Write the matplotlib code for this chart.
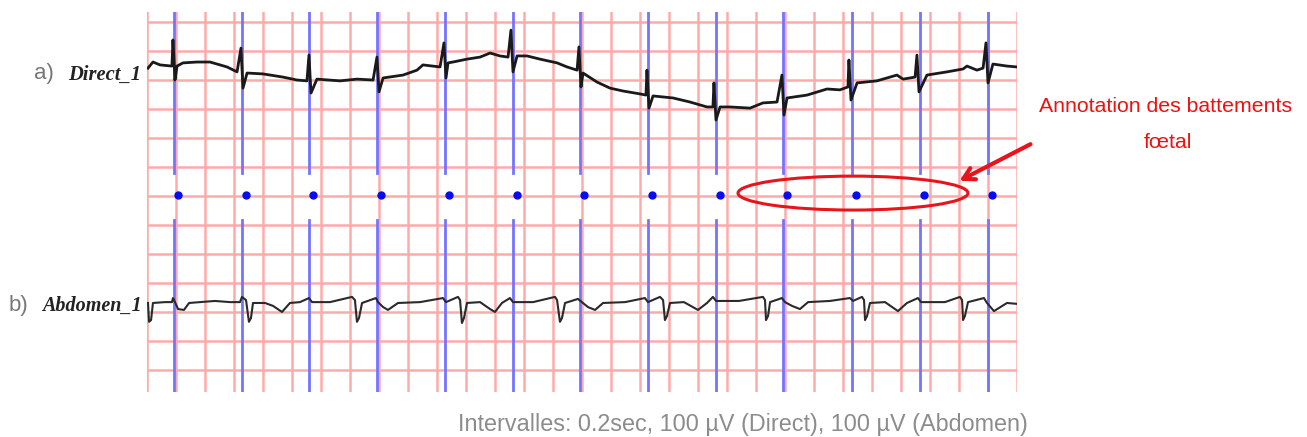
import matplotlib.pyplot as plt
from matplotlib.patches import Ellipse

# time axis in seconds, signal in microvolts
grid_dt = 0.2      # sec per big square
grid_dv = 100      # uV per big square
t_end = 6.0
n_hlines = 13

# fetal beat annotations (sec)
beat_times = [0.186, 0.655, 1.117, 1.586, 2.055, 2.524, 2.986, 3.455, 3.924,
              4.386, 4.862, 5.331, 5.800]

# Direct_1 (scalp electrode), uV relative to its 1000 uV line
direct_t = [0.007, 0.041, 0.090, 0.172, 0.179, 0.193, 0.207, 0.248, 0.345, 0.434,
            0.483, 0.552, 0.621, 0.648, 0.662, 0.690, 0.800, 0.938, 1.034, 1.103,
            1.117, 1.131, 1.172, 1.331, 1.448, 1.559, 1.586, 1.600, 1.628, 1.766,
            1.862, 1.903, 2.021, 2.048, 2.062, 2.076, 2.110, 2.207, 2.297, 2.366,
            2.434, 2.490, 2.510, 2.524, 2.552, 2.621, 2.710, 2.828, 2.897, 2.966,
            2.979, 2.993, 3.007, 3.103, 3.193, 3.283, 3.400, 3.441, 3.448, 3.462,
            3.490, 3.628, 3.745, 3.862, 3.903, 3.910, 3.924, 3.952, 4.021, 4.159,
            4.248, 4.345, 4.379, 4.393, 4.414, 4.552, 4.690, 4.779, 4.834, 4.841,
            4.855, 4.897, 5.034, 5.172, 5.214, 5.297, 5.310, 5.324, 5.379, 5.517,
            5.628, 5.655, 5.724, 5.766, 5.786, 5.800, 5.834, 5.931, 6.000]
direct_v = [41, 62, 52, 48, 138, 0, 48, 59, 62, 62,
            55, 45, 28, 110, -28, 24, 21, 10, 0, -3,
            86, -45, 3, -3, 3, 0, 79, -41, 7, 17,
            34, 52, 45, 128, 7, 59, 62, 72, 79, 93,
            83, 79, 172, 28, 83, 83, 72, 59, 45, 34,
            114, -24, 24, -7, -28, -38, -48, -52, 34, -97,
            -55, -62, -76, -93, -93, -10, -138, -93, -93, -97,
            -79, -76, 17, -121, -62, -52, -31, -34, -24, 69,
            -69, -10, -3, 17, 3, 10, 86, -41, 17, 28,
            38, 48, 34, 41, 128, -10, 55, 48, 45]

# Abdomen_1, uV relative to its 200 uV line
abd_t = [0.007, 0.014, 0.028, 0.041, 0.124, 0.172, 0.179, 0.193, 0.214, 0.255,
         0.290, 0.366, 0.469, 0.572, 0.641, 0.655, 0.683, 0.703, 0.717, 0.731,
         0.814, 0.869, 0.931, 0.986, 1.055, 1.117, 1.138, 1.262, 1.414, 1.434,
         1.448, 1.462, 1.483, 1.579, 1.593, 1.628, 1.662, 1.731, 1.883, 2.041,
         2.062, 2.145, 2.159, 2.172, 2.186, 2.207, 2.297, 2.366, 2.400, 2.448,
         2.503, 2.524, 2.662, 2.814, 2.828, 2.848, 2.862, 2.883, 2.972, 3.041,
         3.090, 3.145, 3.297, 3.434, 3.455, 3.538, 3.559, 3.572, 3.586, 3.607,
         3.703, 3.800, 3.862, 3.903, 3.924, 4.083, 4.248, 4.262, 4.269, 4.283,
         4.297, 4.379, 4.400, 4.448, 4.503, 4.559, 4.710, 4.848, 4.869, 4.931,
         4.945, 4.952, 4.966, 4.986, 5.090, 5.179, 5.241, 5.317, 5.338, 5.503,
         5.607, 5.621, 5.628, 5.641, 5.662, 5.772, 5.793, 5.841, 5.931, 6.000]
abd_v = [31, -34, -28, 31, 34, 34, 48, 34, 10, 7,
         31, 34, 38, 34, 34, 52, 41, -34, -21, 31,
         31, 21, 0, 31, 34, 48, 34, 34, 52, 41,
         -34, -21, 31, 48, 34, 17, 7, 31, 34, 48,
         34, 52, 41, -38, -21, 31, 34, 10, 0, 31,
         48, 34, 34, 52, 41, -34, -21, 31, 45, 17,
         7, 31, 34, 48, 34, 52, 41, -28, -14, 31,
         34, 7, 31, 52, 38, 38, 52, 41, -28, -14,
         34, 48, 34, 21, 10, 34, 38, 48, 38, 52,
         41, -28, -14, 31, 34, 3, 31, 48, 34, 34,
         52, 41, -28, -14, 34, 48, 31, 3, 31, 28]

direct_offset = 1000
abd_offset = 200

W, H = 1307, 437
fig = plt.figure(figsize=(W / 100, H / 100), dpi=100)
ax = fig.add_axes([147 / W, (H - 392) / H, 870 / W, 380 / H])
ax.set_xlim(0, t_end)
ax.set_ylim(-76, 1234.5)
ax.axis('off')

# ECG paper grid
red = '#ffaaaa'
for k in range(int(round(t_end / grid_dt)) + 1):
    ax.axvline(k * grid_dt, color=red, lw=1.8, zorder=1)
for k in range(n_hlines):
    ax.axhline(k * grid_dv, color=red, lw=1.8, zorder=1)

# beat markers
blue = '#7474ff'
for b in beat_times:
    ax.plot([b, b], [679, 1234.5], color=blue, lw=2.0, zorder=2)
    ax.plot([b, b], [-76, 517], color=blue, lw=2.0, zorder=2)
ax.plot([b + 0.028 for b in beat_times], [603] * len(beat_times), 'o',
        color='#0a0aee', ms=5, zorder=3)

ax.plot(direct_t, [v + direct_offset for v in direct_v], color='#1a1a1a', lw=2.0,
        zorder=4)
ax.plot(abd_t, [v + abd_offset for v in abd_v], color='#2a2a2a', lw=1.5, zorder=4)

# annotation
ax.add_patch(Ellipse((4.869, 610), 1.586, 117, fill=False, ec='#e8141c', lw=2.2,
                     zorder=5, clip_on=False))
ax.annotate('', xy=(5.586, 648), xytext=(6.11, 783),
            arrowprops=dict(arrowstyle='->,head_length=0.8,head_width=0.45',
                            color='#e8141c', lw=3),
            annotation_clip=False, zorder=6)

fig.text(1166 / W, 1 - 107 / H, 'Annotation des battements', color='#ee1111',
         fontsize=15.3, family='Liberation Sans', ha='center', va='center')
fig.text(1168 / W, 1 - 143 / H, 'fœtal', color='#ee1111',
         fontsize=15.3, family='Liberation Sans', ha='center', va='center')

fig.text(34 / W, 1 - 74 / H, 'a)', color='#777777', fontsize=16,
         family='Liberation Sans', ha='left', va='center')
fig.text(68 / W, 1 - 75 / H, 'Direct_1', color='#222222', fontsize=14.8,
         family='Liberation Serif', style='italic', weight='bold',
         ha='left', va='center')
fig.text(9 / W, 1 - 305 / H, 'b)', color='#777777', fontsize=16,
         family='Liberation Sans', ha='left', va='center')
fig.text(42 / W, 1 - 306 / H, 'Abdomen_1', color='#222222', fontsize=14.5,
         family='Liberation Serif', style='italic', weight='bold',
         ha='left', va='center')

fig.text(743 / W, 1 - 424 / H, 'Intervalles: 0.2sec, 100 µV (Direct), 100 µV (Abdomen)',
         color='#8c8c8c', fontsize=16.8, family='Liberation Sans',
         ha='center', va='center')

fig.savefig('out.png', dpi=100)
